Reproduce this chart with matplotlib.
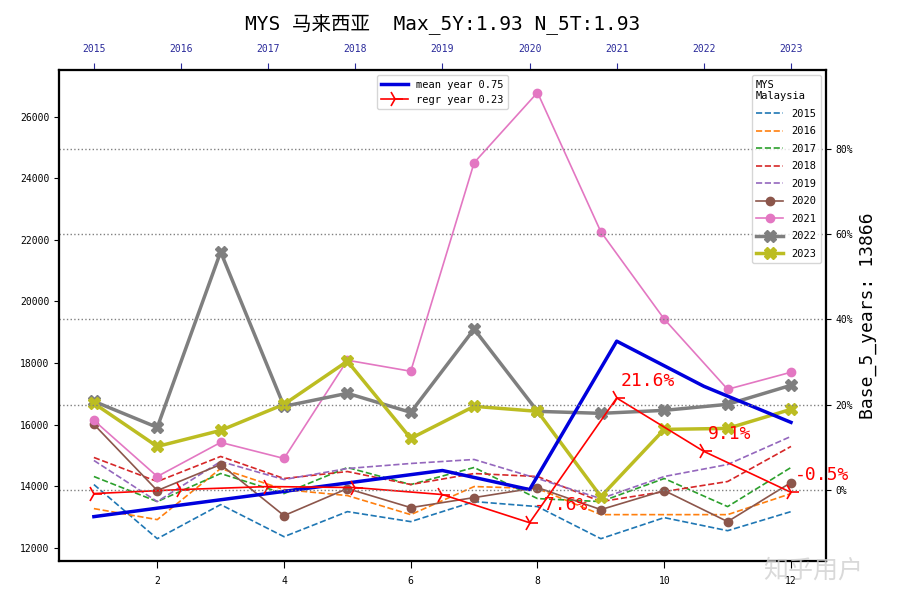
import matplotlib
matplotlib.use("Agg")
import matplotlib.pyplot as plt
from matplotlib.ticker import PercentFormatter, FixedLocator

plt.rcParams['font.family'] = ['DejaVu Sans Mono', 'Noto Sans CJK SC']

months = list(range(1, 13))
v2015 = [14051, 12293, 13400, 12358, 13172, 12847, 13498, 13335, 12293, 12977, 12553, 13172]
v2016 = [13270, 12912, 14572, 13888, 13693, 13074, 13986, 13921, 13074, 13074, 13074, 13758]
v2017 = [14312, 13498, 14409, 13758, 14605, 14051, 14605, 13595, 13498, 14247, 13335, 14605]
v2018 = [14930, 14149, 14963, 14247, 14474, 14051, 14409, 14312, 13498, 13823, 14149, 15288]
v2019 = [14833, 13498, 14800, 14214, 14572, 14735, 14865, 14247, 13595, 14312, 14702, 15614]
v2020 = [16005, 13856, 14702, 13042, 13921, 13302, 13628, 13953, 13237, 13856, 12847, 14116]
v2021 = [16135, 14312, 15419, 14898, 18088, 17730, 24502, 26781, 22256, 19423, 17144, 17698]
v2022 = [16754, 15907, 21605, 16591, 17014, 16395, 19098, 16428, 16363, 16460, 16656, 17274]
v2023 = [16688, 15288, 15809, 16656, 18056, 15549, 16591, 16428, 13660, 15842, 15874, 16493]

years = [2015, 2016, 2017, 2018, 2019, 2020, 2021, 2022, 2023]
mean_year = [13009, 13387, 13761, 14136, 14507, 13888, 18707, 17242, 16070]
regr_year = [13758, 13888, 13986, 13953, 13726, 12812, 16861, 15128, 13797]
annot_years = [2020, 2021, 2022, 2023]
annot_pct = [-7.6, 21.6, 9.1, -0.5]
base = 13866
pct_ticks = [0, 0.2, 0.4, 0.6, 0.8]

fig = plt.figure(figsize=(9, 6), dpi=100)
ax = fig.add_axes([0.0656, 0.065, 0.852, 0.818])
ax2 = ax.twiny()
ax3 = ax.twinx()

dashed = [(v2015, '2015', 'C0'), (v2016, '2016', 'C1'), (v2017, '2017', 'C2'),
          (v2018, '2018', 'C3'), (v2019, '2019', 'C4')]
for vals, lab, c in dashed:
    ax.plot(months, vals, '--', color=c, lw=1.2, label=lab)
ax.plot(months, v2020, '-o', color='C5', lw=1.2, ms=6, label='2020')
ax.plot(months, v2021, '-o', color='C6', lw=1.2, ms=6, label='2021')
ax.plot(months, v2022, '-X', color='C7', lw=2.5, ms=8, label='2022')
ax.plot(months, v2023, '-X', color='C8', lw=2.5, ms=8, label='2023')

l1, = ax2.plot(years, mean_year, '-', color='#0000dd', lw=2.5, label='mean year 0.75')
l2, = ax2.plot(years, regr_year, '-4', color='red', lw=1.2, ms=12, mew=1.2, label='regr year 0.23')
for yr, p in zip(annot_years, annot_pct):
    v = regr_year[years.index(yr)]
    ax2.annotate(f'{p:.1f}%', (yr, v), xytext=(3, 9), textcoords='offset points',
                 color='red', fontsize=13)

ax2.set_xticks(years)
ax2.tick_params(axis='x', colors='#2a2a9a', labelsize=7, length=5, pad=7)
ax.tick_params(labelsize=7)
ax.tick_params(axis='x', length=5, pad=6)
ax.set_xticks([2, 4, 6, 8, 10, 12])

y0, y1 = ax.get_ylim()
ax3.set_ylim(y0 / base - 1, y1 / base - 1)
ax3.yaxis.set_major_locator(FixedLocator(pct_ticks))
ax3.yaxis.set_major_formatter(PercentFormatter(1.0, decimals=0))
ax3.tick_params(labelsize=7)
ax3.grid(axis='y', linestyle=':', color='gray', lw=1)
ax3.set_ylabel(f'Base_5_years: {base}', fontsize=13)

for a in (ax, ax2, ax3):
    for s in a.spines.values():
        s.set_linewidth(1.5)

h, lbl = ax.get_legend_handles_labels()
leg1 = ax3.legend(h, lbl, title='MYS\nMalaysia', loc='upper right', fontsize=7.5,
                  title_fontsize=7.5, labelspacing=0.72, handlelength=2.6)
leg1._legend_box.align = 'left'
ax3.add_artist(leg1)
ax3.legend([l1, l2], ['mean year 0.75', 'regr year 0.23'], loc='upper center',
           fontsize=7.5, handlelength=2.6)

ax2.set_title('MYS 马来西亚  Max_5Y:1.93 N_5T:1.93', fontsize=14, pad=10)

fig.text(0.848, 0.037, '知乎用户', fontsize=18, color='#d0d0d0', alpha=0.8,
         family=['Noto Sans CJK SC', 'DejaVu Sans'])

fig.savefig('out.png', dpi=100)
